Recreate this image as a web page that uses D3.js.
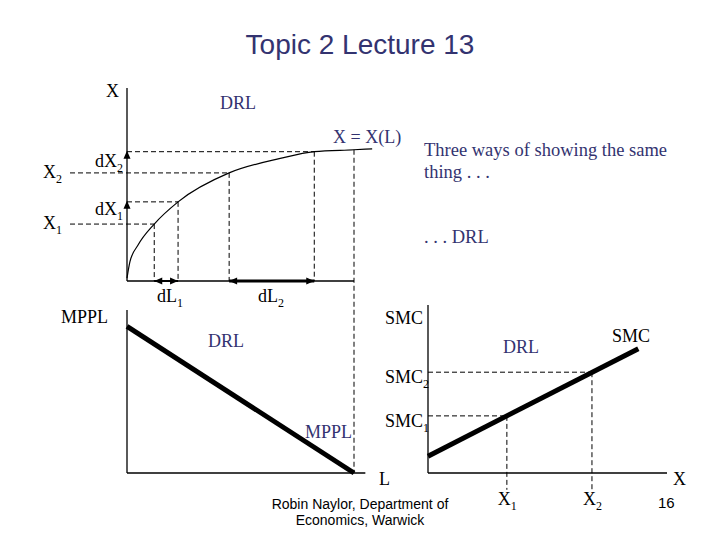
<!DOCTYPE html>
<html>
<head>
<meta charset="utf-8">
<script src="https://cdn.jsdelivr.net/npm/d3@7"></script>
<style>
  body { margin: 0; background: #fff; }
  svg { display: block; }
</style>
</head>
<body>
<script>
// DRL curve X = X(L)
const curveL = [0, 0.13, 0.48, 1.2, 2.25, 4.5, 6.75, 8.25, 10, 10.8];
const curveX = [0.15, 1.0, 1.85, 2.95, 4.1, 5.6, 6.35, 6.7, 6.8, 6.85];

// marked points on the curve: L1, L1+dL1, L2, L2+dL2
const markL = [1.2, 2.25, 4.5, 8.25];
const markX = [2.95, 4.1, 5.6, 6.7];
const lEnd = 10, xAtEnd = 6.8;

// MPPL (straight, falling)
const mpplL = [0, 10];
const mpplV = [9.0, 0];

// SMC (straight, rising) and the two marked outputs
const smcX = [0, 8.8];
const smcV = [1.0, 7.4];
const smcMarkX = [3.3, 6.86];
const smcMarkV = [3.4, 6.0];

const width = 720, height = 540;
const navy = "#333370";
const serif = "'Liberation Serif', 'Times New Roman', serif";
const sans = "'Liberation Sans', Arial, sans-serif";

const svg = d3.select("body").append("svg")
  .attr("width", width)
  .attr("height", height);

// Scales for the three panels
const xL = d3.scaleLinear().domain([0, 10]).range([127, 354]);   // labour, shared by top and bottom-left
const yX = d3.scaleLinear().domain([0, 10]).range([281, 88]);    // output, top panel
const yM = d3.scaleLinear().domain([0, 10]).range([473, 310]);   // MPPL, bottom-left
const xS = d3.scaleLinear().domain([0, 10]).range([428, 667]);   // output, bottom-right
const yS = d3.scaleLinear().domain([0, 10]).range([473, 305]);   // SMC, bottom-right

function line(x1, y1, x2, y2, w, dash) {
  const l = svg.append("line")
    .attr("x1", x1).attr("y1", y1).attr("x2", x2).attr("y2", y2)
    .attr("stroke", "#000")
    .attr("stroke-width", w || 1.3);
  if (dash) l.attr("stroke-dasharray", "5,3");
  return l;
}

// small filled triangle, dir in radians (direction the tip points)
function arrowHead(x, y, dir) {
  const len = 8, half = 3.5;
  const bx = x - len * Math.cos(dir), by = y - len * Math.sin(dir);
  const px = -Math.sin(dir) * half, py = Math.cos(dir) * half;
  svg.append("path")
    .attr("d", `M${x},${y}L${bx + px},${by + py}L${bx - px},${by - py}Z`)
    .attr("fill", "#000");
}

// text with optional subscript
function label(x, y, main, sub, opts) {
  opts = opts || {};
  const t = svg.append("text")
    .attr("x", x).attr("y", y)
    .attr("font-family", opts.family || serif)
    .attr("font-size", opts.size || 18)
    .attr("fill", opts.color || "#000")
    .attr("text-anchor", opts.anchor || "start");
  t.append("tspan").text(main);
  if (sub) {
    t.append("tspan").attr("dy", 5).attr("font-size", 12).text(sub);
  }
  return t;
}

// ---------- Title ----------
svg.append("text")
  .attr("x", width / 2).attr("y", 54)
  .attr("text-anchor", "middle")
  .attr("font-family", sans)
  .attr("font-size", 28)
  .attr("fill", navy)
  .text("Topic 2 Lecture 13");

// ---------- Top panel: X = X(L) ----------
line(xL(0), yX(10), xL(0), yX(0));
line(xL(0), yX(0), xL(lEnd), yX(0));

// dashed guides
line(70, yX(markX[0]), xL(markL[0]), yX(markX[0]), 1, true);
line(70, yX(markX[2]), xL(markL[2]), yX(markX[2]), 1, true);
line(xL(0), yX(markX[1]), xL(markL[1]), yX(markX[1]), 1, true);
line(xL(0), yX(markX[3]), xL(markL[3]), yX(markX[3]), 1, true);
markL.forEach((l, i) => line(xL(l), yX(markX[i]), xL(l), yX(0), 1, true));
line(xL(lEnd), yX(xAtEnd), xL(lEnd), yM(0), 1, true);

// the curve
const curveLine = d3.line()
  .x(d => xL(d[0]))
  .y(d => yX(d[1]))
  .curve(d3.curveMonotoneX);
svg.append("path")
  .attr("d", curveLine(curveL.map((l, i) => [l, curveX[i]])))
  .attr("fill", "none")
  .attr("stroke", "#000")
  .attr("stroke-width", 1.2);

// arrows on the output axis
arrowHead(xL(0), yX(markX[3]) - 1, -Math.PI / 2);
arrowHead(xL(0), yX(markX[1]) - 1, -Math.PI / 2);

// double arrows on the labour axis
line(xL(markL[0]), yX(0), xL(markL[1]), yX(0), 2);
arrowHead(xL(markL[0]), yX(0), Math.PI);
arrowHead(xL(markL[1]), yX(0), 0);
line(xL(markL[2]), yX(0), xL(markL[3]), yX(0), 3);
arrowHead(xL(markL[2]), yX(0), Math.PI);
arrowHead(xL(markL[3]), yX(0), 0);

label(106, 97, "X");
label(220, 109, "DRL", null, { color: navy });
label(333, 143, "X = X(L)", null, { color: navy });
label(43, yX(markX[2]) + 5, "X", "2");
label(43, yX(markX[0]) + 5, "X", "1");
label(95, yX(markX[3]) + 15, "dX", "2");
label(95, yX(markX[1]) + 13, "dX", "1");
label(157, 302, "dL", "1");
label(258, 302, "dL", "2");

label(424, 156, "Three ways of showing the same", null, { color: navy, size: 18.5 });
label(424, 178, "thing . . .", null, { color: navy, size: 18.5 });
label(424, 243, ". . . DRL", null, { color: navy, size: 18.5 });

// ---------- Bottom-left: MPPL ----------
line(xL(0), yM(10), xL(0), yM(0));
line(xL(0), yM(0), xL(10.5), yM(0));
svg.append("path")
  .attr("d", d3.line().x(d => xL(d[0])).y(d => yM(d[1]))(mpplL.map((l, i) => [l, mpplV[i]])))
  .attr("fill", "none")
  .attr("stroke", "#000")
  .attr("stroke-width", 5);

label(61, 323, "MPPL");
label(208, 347, "DRL", null, { color: navy });
label(305, 438, "MPPL", null, { color: navy });

// ---------- Bottom-right: SMC ----------
line(xS(0), yS(10), xS(0), yS(0));
line(xS(0), yS(0), xS(10), yS(0));
smcMarkX.forEach((x, i) => {
  line(xS(0), yS(smcMarkV[i]), xS(x), yS(smcMarkV[i]), 1, true);
  line(xS(x), yS(smcMarkV[i]), xS(x), yS(-1), 1, true);
});
svg.append("path")
  .attr("d", d3.line().x(d => xS(d[0])).y(d => yS(d[1]))(smcX.map((x, i) => [x, smcV[i]])))
  .attr("fill", "none")
  .attr("stroke", "#000")
  .attr("stroke-width", 5);

label(385, 324, "SMC");
label(612, 342, "SMC");
label(503, 353, "DRL", null, { color: navy });
label(385, yS(smcMarkV[1]) + 11, "SMC", "2");
label(385, yS(smcMarkV[0]) + 11, "SMC", "1");
label(379, 485, "L");
label(673, 485, "X");
label(xS(smcMarkX[0]) - 9, 505, "X", "1");
label(xS(smcMarkX[1]) - 9, 505, "X", "2");

// ---------- Footer ----------
label(360, 509, "Robin Naylor, Department of", null, { family: sans, size: 14, anchor: "middle" });
label(360, 525, "Economics, Warwick", null, { family: sans, size: 14, anchor: "middle" });
label(658, 508, "16", null, { family: sans, size: 15 });
</script>
</body>
</html>
